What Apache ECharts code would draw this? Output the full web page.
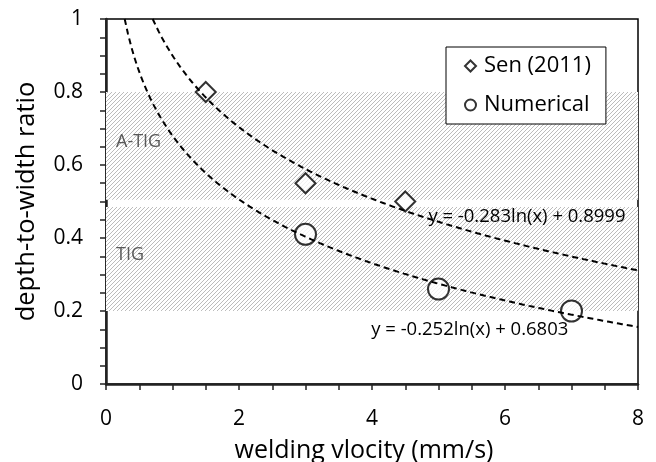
<!DOCTYPE html>
<html>
<head>
<meta charset="utf-8">
<script src="https://cdn.jsdelivr.net/npm/echarts@6/dist/echarts.min.js"></script>
<style>
  html, body { margin: 0; padding: 0; background: #fff; }
  #chart { width: 656px; height: 462px; }
</style>
</head>
<body>
<div id="chart"></div>
<script>
// Measured depth-to-width ratio vs welding velocity
const senX = [1.5, 3, 4.5];
const senY = [0.8, 0.55, 0.5];
const numX = [3, 5, 7];
const numY = [0.41, 0.26, 0.2];

// Logarithmic fits y = a*ln(x) + b, as printed next to each curve
const senFit = [-0.283, 0.8999];
const numFit = [-0.252, 0.6803];

// Process regimes (y ranges)
const bandNames = ['A-TIG', 'TIG'];
const bandLow = [0.505, 0.2];
const bandHigh = [0.8, 0.485];

const xTicks = [0, 2, 4, 6, 8];
const yTicks = [0, 0.2, 0.4, 0.6, 0.8, 1];

const FONT = 'Open Sans';

// Points along the fitted curve, from where it enters the top of the plot (y = 1) to x = 8
function fitCurve(fit) {
  const a = fit[0], b = fit[1];
  const x0 = Math.exp((1 - b) / a);
  const pts = [];
  const n = 160;
  for (let i = 0; i <= n; i++) {
    const x = x0 + (8 - x0) * i / n;
    pts.push([x, a * Math.log(x) + b]);
  }
  return pts;
}
function eqText(fit) {
  return 'y = ' + fit[0].toFixed(3) + 'ln(x) + ' + fit[1];
}

// Diagonal hatch fill
function hatch() {
  const s = 4;
  const c = document.createElement('canvas');
  c.width = s; c.height = s;
  const g = c.getContext('2d');
  g.fillStyle = '#fff';
  g.fillRect(0, 0, s, s);
  g.strokeStyle = '#bcbcbc';
  g.lineWidth = 1;
  g.beginPath();
  g.moveTo(-1, s + 1); g.lineTo(s + 1, -1);
  g.moveTo(-1, 1); g.lineTo(1, -1);
  g.moveTo(s - 1, s + 1); g.lineTo(s + 1, s - 1);
  g.stroke();
  return c;
}
const hatchFill = { image: hatch(), repeat: 'repeat' };

const markerStyle = { color: '#fff', borderColor: '#000', borderWidth: 2 };
const dash = { color: '#000', width: 2, type: [6, 4] };

function trendSeries(name, fit, labelCoord) {
  return {
    name: name, type: 'line', z: 4, showSymbol: false, silent: true,
    lineStyle: dash, data: fitCurve(fit),
    markPoint: {
      symbol: 'circle', symbolSize: 0, silent: true,
      label: { show: true, position: 'inside', fontFamily: FONT, fontSize: 18.5, color: '#000',
        formatter: () => eqText(fit) },
      data: [{ coord: labelCoord }]
    }
  };
}

const chart = echarts.init(document.getElementById('chart'), null, { renderer: 'canvas' });
chart.setOption({
  backgroundColor: '#fff',
  animation: false,
  textStyle: { fontFamily: FONT },
  grid: {
    left: 106, top: 19, right: 18, bottom: 78,
    outerBoundsMode: 'none', containLabel: false,
    show: true, borderColor: '#000', borderWidth: 1.5, backgroundColor: 'transparent'
  },
  legend: {
    left: 446, top: 47,
    orient: 'vertical',
    backgroundColor: '#fff',
    borderColor: '#000',
    borderWidth: 1,
    padding: [8, 15, 8, 18],
    itemGap: 17,
    itemWidth: 11,
    itemHeight: 11,
    textStyle: { fontFamily: FONT, fontSize: 22, lineHeight: 22, color: '#000', padding: [0, 0, 0, 3] },
    data: [
      { name: 'Sen (2011)', icon: 'diamond', itemStyle: markerStyle },
      { name: 'Numerical', icon: 'circle', itemStyle: markerStyle }
    ]
  },
  xAxis: {
    type: 'value', min: xTicks[0], max: xTicks[xTicks.length - 1], interval: 2,
    name: 'welding vlocity (mm/s)', nameLocation: 'middle', nameGap: 54,
    nameTextStyle: { fontFamily: FONT, fontSize: 25, color: '#000', padding: [0, 16, 0, 0] },
    axisLine: { onZero: false, lineStyle: { color: '#222', width: 2.5 } },
    axisTick: { show: true, length: 6, lineStyle: { color: '#222', width: 1.5 } },
    minorTick: { show: true, splitNumber: 4, length: 6, lineStyle: { color: '#222', width: 1.5 } },
    axisLabel: { fontFamily: FONT, fontSize: 21, color: '#000', margin: 25 },
    splitLine: { show: false }
  },
  yAxis: {
    type: 'value', min: yTicks[0], max: yTicks[yTicks.length - 1], interval: 0.2,
    name: 'depth-to-width ratio', nameLocation: 'middle', nameGap: 66, nameRotate: 90,
    nameTextStyle: { fontFamily: FONT, fontSize: 25.5, color: '#000' },
    axisLine: { onZero: false, lineStyle: { color: '#222', width: 2.5 } },
    axisTick: { show: true, length: 6, lineStyle: { color: '#222', width: 1.5 } },
    minorTick: { show: true, splitNumber: 4, length: 6, lineStyle: { color: '#222', width: 1.5 } },
    axisLabel: { fontFamily: FONT, fontSize: 21, color: '#000', margin: 23 },
    splitLine: { show: false }
  },
  series: [
    {
      name: 'Sen (2011)', type: 'scatter', z: 3,
      symbol: 'diamond', symbolSize: 20,
      itemStyle: markerStyle,
      data: senX.map((x, i) => [x, senY[i]]),
      markArea: {
        silent: true,
        itemStyle: { color: hatchFill },
        label: {
          show: true, position: 'insideLeft', distance: 10, offset: [0, -4],
          fontFamily: FONT, fontSize: 18, color: '#595959'
        },
        data: bandNames.map((n, i) => [
          { name: n, xAxis: 0, yAxis: bandLow[i] },
          { xAxis: 8, yAxis: bandHigh[i] }
        ])
      }
    },
    {
      name: 'Numerical', type: 'scatter', z: 3,
      symbol: 'circle', symbolSize: 21,
      itemStyle: markerStyle,
      data: numX.map((x, i) => [x, numY[i]])
    },
    trendSeries('Sen fit', senFit, [6.33, 0.4575]),
    trendSeries('Numerical fit', numFit, [5.47, 0.148])
  ]
});
</script>
</body>
</html>
